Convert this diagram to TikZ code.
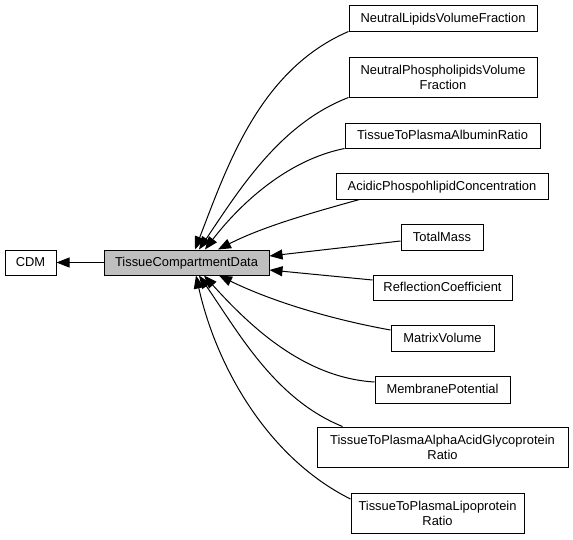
\documentclass[tikz,border=0pt]{standalone}
\usepackage{fontspec}
\setmainfont{Liberation Sans}
\usetikzlibrary{arrows.meta}
\begin{document}
\begin{tikzpicture}[x=1pt,y=-1pt,
  box/.style={draw=black, line width=1pt, fill=white, inner sep=0pt, align=center,
    font=\fontsize{12.9}{15}\selectfont},
  one/.style={text height=10pt, text depth=2pt},
  edge/.style={line width=1pt, draw=black, -{Triangle[length=13pt,width=10pt]}}]
\useasboundingbox (0,0) rectangle (573,539);
% nodes
\node[box, one, minimum width=51pt, minimum height=25pt] (cdm) at (30.5,262.5) {CDM};
\node[box, one, fill={rgb,255:red,191;green,191;blue,191}, minimum width=165pt, minimum height=25pt] (tcd) at (186.5,262.5) {TissueCompartmentData};
\node[box, one, minimum width=188pt, minimum height=26pt] (nlvf) at (443,18) {NeutralLipidsVolumeFraction};
\node[box, minimum width=188pt, minimum height=40pt] (npvf) at (443,77) {NeutralPhospholipidsVolume\\Fraction};
\node[box, one, minimum width=195pt, minimum height=25pt] (ttpar) at (442.5,135.5) {TissueToPlasmaAlbuminRatio};
\node[box, one, minimum width=212pt, minimum height=26pt] (apc) at (442,186) {AcidicPhospohlipidConcentration};
\node[box, one, minimum width=82pt, minimum height=26pt] (tm) at (442,237) {TotalMass};
\node[box, one, minimum width=139pt, minimum height=25pt] (rc) at (442.5,287.5) {ReflectionCoefficient};
\node[box, one, minimum width=103pt, minimum height=26pt] (mv) at (442.5,338) {MatrixVolume};
\node[box, one, minimum width=135pt, minimum height=27pt] (mp) at (442.5,389.5) {MembranePotential};
\node[box, minimum width=251pt, minimum height=40pt] (alpha) at (442.5,447) {TissueToPlasmaAlphaAcidGlycoprotein\\Ratio};
\node[box, minimum width=173pt, minimum height=40pt] (lipo) at (437.5,513) {TissueToPlasmaLipoprotein\\Ratio};
% edges
\draw[edge] (tcd) -- (cdm);
\draw[edge] (nlvf.south west) .. controls (259,70) and (227,167) .. ([xshift=8.5pt]tcd.north);
\draw[edge] (npvf.south west) .. controls (279.5,124) and (238.5,191) .. ([xshift=12.5pt]tcd.north);
\draw[edge] (ttpar.south west) .. controls (287,160) and (240,204) .. ([xshift=18.5pt]tcd.north);
\draw[edge] ([xshift=24pt]apc.south west) .. controls (311,213) and (263,226.6) .. ([xshift=31.5pt]tcd.north);
\draw[edge] ([yshift=-4pt]tm.west) -- ([yshift=6.5pt]tcd.east);
\draw[edge] ([yshift=7.5pt]rc.west) -- ([yshift=-7.5pt]tcd.east);
\draw[edge] ([yshift=8pt]mv.west) .. controls (332,319.5) and (272,301.5) .. ([xshift=32.5pt]tcd.south);
\draw[edge] ([yshift=7.5pt]mp.west) .. controls (303,377.7) and (249,325) .. ([xshift=17.5pt]tcd.south);
\draw[edge] ([xshift=26pt]alpha.north west) .. controls (274.6,399) and (238.3,332) .. ([xshift=12.5pt]tcd.south);
\draw[edge] ([yshift=14pt]lipo.west) .. controls (267.3,457.5) and (216.2,366) .. ([xshift=9.5pt]tcd.south);
\end{tikzpicture}
\end{document}
